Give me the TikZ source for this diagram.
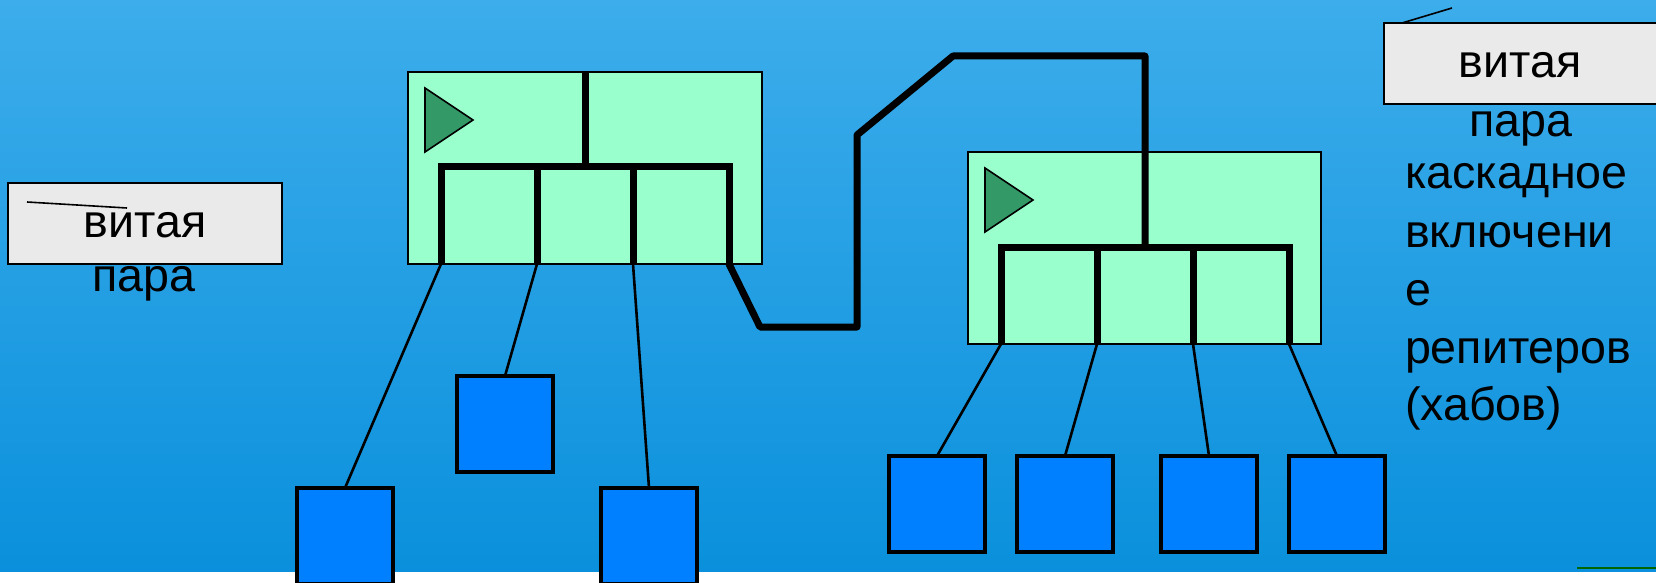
\documentclass[tikz,border=0pt]{standalone}
\usepackage{fontspec}
\setmainfont{Liberation Sans}
\definecolor{bgtop}{RGB}{61,173,235}
\definecolor{bgbot}{RGB}{10,144,220}
\definecolor{hubfill}{RGB}{153,255,204}
\definecolor{trifill}{RGB}{51,153,102}
\definecolor{pcfill}{RGB}{0,128,255}
\definecolor{lblfill}{RGB}{234,234,234}
\definecolor{dkgreen}{RGB}{0,102,0}
\begin{document}
\begin{tikzpicture}[x=0.5pt,y=-0.5pt,
  hub/.style={draw=black,line width=1.2pt,fill=hubfill,inner sep=0pt,outer sep=0pt,minimum width=177pt,minimum height=96pt},
  pc/.style={draw=black,line width=1.6pt,fill=pcfill,inner sep=0pt,outer sep=0pt,minimum size=48pt},
  lbl/.style={draw=black,line width=1.3pt,fill=lblfill,inner sep=0pt,outer sep=0pt,minimum height=40.5pt},
  txt/.style={inner sep=0pt,outer sep=0pt,font=\fontsize{23.3pt}{28pt}\selectfont},
  tri/.style={draw=black,line width=0.8pt,fill=trifill,line join=miter},
  bus/.style={draw=black,line width=3.5pt,line join=miter},
  cable/.style={draw=black,line width=3.5pt,line join=round},
  wire/.style={draw=black,line width=1.3pt},
  tick/.style={draw=black,line width=0.8pt}
]
\clip (0,0) rectangle (1656,583);
\useasboundingbox (0,0) rectangle (1656,583);
\fill[white] (0,0) rectangle (1656,583);
\shade[top color=bgtop,bottom color=bgbot] (0,0) rectangle (1656,571);
\coordinate (g1) at (1577,568);
\coordinate (g2) at (1656,568);
\draw[dkgreen,line width=1pt] (g1) -- (g2);

% labels
\node[lbl,minimum width=137pt] (lblL) at (145,223.5) {};
\coordinate (tL1) at (27,202);
\coordinate (tL2) at (127,208);
\draw[tick] (tL1) -- (tL2);
\node[txt,anchor=base] (vL) at (145,237) {витая};
\node[txt,anchor=base] (pL) at (144,292) {пара};

\node[lbl,minimum width=158pt] (lblR) at (1542,63.5) {};
\coordinate (tR1) at (1402,23);
\coordinate (tR2) at (1452,8);
\draw[tick] (tR1) -- (tR2);
\node[txt,anchor=base] (vR) at (1520,78) {витая};
\node[txt,anchor=base] (pR) at (1521,137) {пара};
\node[txt,anchor=base west] (r1) at (1405,189) {каскадное};
\node[txt,anchor=base west] (r2) at (1405,248) {включени};
\node[txt,anchor=base west] (r3) at (1405,305) {е};
\node[txt,anchor=base west] (r4) at (1405,363) {репитеров};
\node[txt,anchor=base west] (r5) at (1405,420) {(хабов)};

% hubs
\node[hub] (hub1) at (585,168) {};
\node[hub,minimum width=176.5pt] (hub2) at (1144.5,248) {};
\draw[tri] (425,88) -- (425,152) -- (473,120) -- cycle;
\draw[tri] (985,168) -- (985,232) -- (1033,200) -- cycle;

% hub1 bus
\coordinate (h1top) at (585,72);
\coordinate (h1mid) at (585,167);
\coordinate (h1p1) at (441,264);
\coordinate (h1p2) at (537,264);
\coordinate (h1p3) at (633,264);
\coordinate (h1p4) at (729,264);
\draw[bus] (h1top) -- (h1mid);
\draw[bus] (h1p1) -- (441,167) -- (729,167) -- (h1p4);
\draw[bus] (h1p2) -- (537,167);
\draw[bus] (h1p3) -- (633,167);

% hub2 bus
\coordinate (h2mid) at (1145,247);
\coordinate (h2p1) at (1001,344);
\coordinate (h2p2) at (1097,344);
\coordinate (h2p3) at (1193,344);
\coordinate (h2p4) at (1289,344);
\draw[bus] (h2p1) -- (1001,247) -- (1289,247) -- (h2p4);
\draw[bus] (h2p2) -- (1097,247);
\draw[bus] (h2p3) -- (1193,247);

% cascade cable
\draw[cable] (h1p4) -- (760,327) -- (857,327) -- (857,135) -- (953,56) -- (1145,56) -- (h2mid);

% computers
\node[pc] (pc1) at (345,536) {};
\node[pc] (pc2) at (505,424) {};
\node[pc] (pc3) at (649,536) {};
\node[pc] (pc4) at (937,504) {};
\node[pc] (pc5) at (1065,504) {};
\node[pc] (pc6) at (1209,504) {};
\node[pc] (pc7) at (1337,504) {};

\draw[wire] (h1p1) -- (pc1.north);
\draw[wire] (h1p2) -- (pc2.north);
\draw[wire] (h1p3) -- (pc3.north);
\draw[wire] (h2p1) -- (pc4.north);
\draw[wire] (h2p2) -- (pc5.north);
\draw[wire] (h2p3) -- (pc6.north);
\draw[wire] (h2p4) -- (pc7.north);
\end{tikzpicture}
\end{document}
